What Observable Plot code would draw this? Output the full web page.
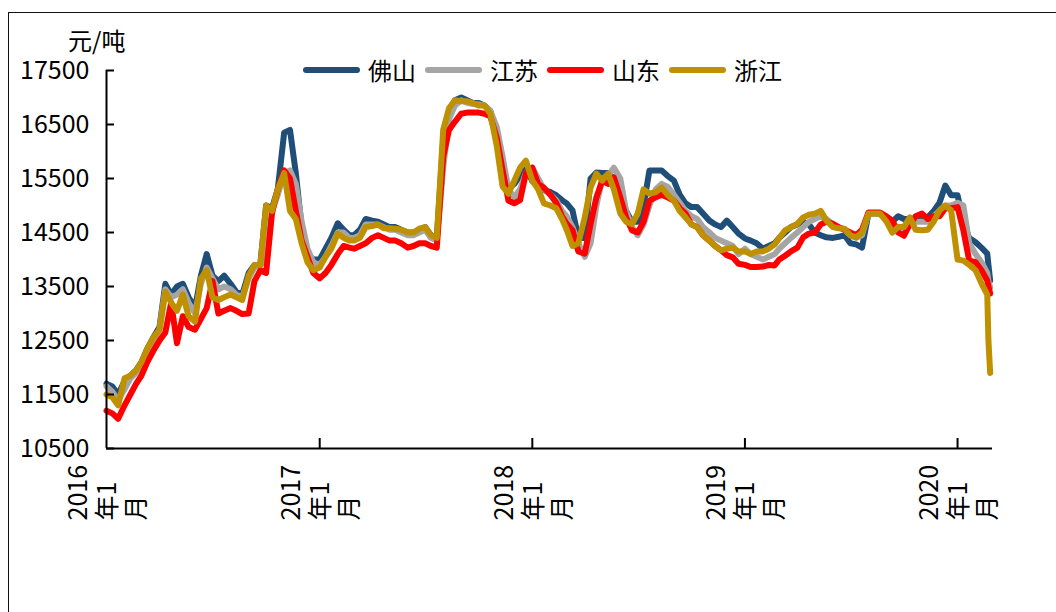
<!DOCTYPE html>
<html><head><meta charset="utf-8">
<script src="https://cdn.jsdelivr.net/npm/d3@7"></script>
<script src="https://cdn.jsdelivr.net/npm/@observablehq/plot@0.6"></script>
<style>
html,body{margin:0;padding:0;background:#fff;overflow:hidden;}
#wrap{position:relative;width:1056px;height:612px;font-family:"Noto Sans CJK SC","Microsoft YaHei",sans-serif;color:#000;}
#border{position:absolute;left:8px;top:12px;width:1200px;height:800px;border:1.5px solid #111;box-sizing:border-box;pointer-events:none;}
#chart{position:absolute;left:0;top:0;}
#unit{position:absolute;left:68px;top:24px;font-size:24px;line-height:32px;}
#legend{position:absolute;left:303px;top:55px;height:30px;display:flex;align-items:center;font-size:24px;}
#legend .sw{display:inline-block;width:57px;height:6px;border-radius:3px;margin-right:8px;}
#legend .lb{margin-right:9px;line-height:30px;}
</style></head>
<body><div id="wrap"><div id="chart"></div><div id="border"></div><div id="unit">元/吨</div><div id="legend"></div></div>
<script>
const seriesNames = ["佛山","江苏","山东","浙江"];
const seriesColors = ["#1F4E79","#A5A5A5","#FF0000","#BF9000"];
const yTicks = [10500,11500,12500,13500,14500,15500,16500,17500];
const xTickDates = ["2017-01-01","2018-01-01","2019-01-01","2020-01-01"];
const xLabelDates = ["2016-01-01","2017-01-01","2018-01-01","2019-01-01","2020-01-01"];
const xLabels = ["2016\n年1\n月","2017\n年1\n月","2018\n年1\n月","2019\n年1\n月","2020\n年1\n月"];

const dates = [
"2016-01-01","2016-01-11","2016-01-21","2016-02-01","2016-02-11","2016-02-21","2016-03-01","2016-03-11","2016-03-21","2016-04-01","2016-04-11","2016-04-21",
"2016-05-01","2016-05-11","2016-05-21","2016-06-01","2016-06-11","2016-06-21","2016-07-01","2016-07-11","2016-07-21","2016-08-01","2016-08-11","2016-08-21",
"2016-09-01","2016-09-11","2016-09-21","2016-10-01","2016-10-11","2016-10-21","2016-11-01","2016-11-11","2016-11-21","2016-12-01","2016-12-11","2016-12-21",
"2017-01-01","2017-01-11","2017-01-21","2017-02-01","2017-02-11","2017-02-21","2017-03-01","2017-03-11","2017-03-21","2017-04-01","2017-04-11","2017-04-21",
"2017-05-01","2017-05-11","2017-05-21","2017-06-01","2017-06-11","2017-06-21","2017-07-01","2017-07-11","2017-07-21","2017-08-01","2017-08-11","2017-08-21",
"2017-09-01","2017-09-11","2017-09-21","2017-10-01","2017-10-11","2017-10-21","2017-11-01","2017-11-11","2017-11-21","2017-12-01","2017-12-11","2017-12-21",
"2018-01-01","2018-01-11","2018-01-21","2018-02-01","2018-02-11","2018-02-21","2018-03-01","2018-03-11","2018-03-21","2018-04-01","2018-04-11","2018-04-21",
"2018-05-01","2018-05-11","2018-05-21","2018-06-01","2018-06-11","2018-06-21","2018-07-01","2018-07-11","2018-07-21","2018-08-01","2018-08-11","2018-08-21",
"2018-09-01","2018-09-11","2018-09-21","2018-10-01","2018-10-11","2018-10-21","2018-11-01","2018-11-11","2018-11-21","2018-12-01","2018-12-11","2018-12-21",
"2019-01-01","2019-01-11","2019-01-21","2019-02-01","2019-02-11","2019-02-21","2019-03-01","2019-03-11","2019-03-21","2019-04-01","2019-04-11","2019-04-21",
"2019-05-01","2019-05-11","2019-05-21","2019-06-01","2019-06-11","2019-06-21","2019-07-01","2019-07-11","2019-07-21","2019-08-01","2019-08-11","2019-08-21",
"2019-09-01","2019-09-11","2019-09-21","2019-10-01","2019-10-11","2019-10-21","2019-11-01","2019-11-11","2019-11-21","2019-12-01","2019-12-11","2019-12-21",
"2020-01-01","2020-01-11","2020-01-21","2020-02-01","2020-02-11","2020-02-21","2020-02-23","2020-02-26"
];

const foshan = [
11700,11650,11500, 11750,11850,11950, 12100,12350,12550, 12750,13550,13350,
13500,13550,13300, 13100,13700,14100, 13700,13600,13700, 13550,13400,13350,
13750,13900,13900, 15000,14950,15300, 16350,16400,15600, 14600,14100,14000,
14000,14200,14400, 14670,14550,14450, 14450,14550,14750, 14720,14700,14650,
14600,14600,14550, 14500,14500,14550, 14600,14450,14400, 16200,16700,16950,
17000,16950,16900, 16900,16850,16750, 16300,15600,15300, 15400,15550,15700,
15450,15400,15280, 15250,15190,15100, 15040,14910,14400, 14400,15500,15610,
15600,15600,15500, 15200,14900,14700, 14700,15000,15650, 15650,15650,15550,
15460,15200,15040, 14970,14970,14850, 14720,14650,14600, 14720,14600,14480,
14390,14350,14300, 14200,14250,14300, 14400,14500,14600, 14650,14700,14650,
14500,14450,14410, 14400,14420,14450, 14300,14280,14220, 14850,14850,14850,
14750,14700,14800, 14750,14750,14750, 14780,14780,14900, 15050,15370,15190,
15190,14700,14400, 14320,14220,14110,13900,13610
];
const jiangsu = [
11650,11550,11400, 11600,11800,11900, 12050,12300,12500, 12700,13450,13300,
13350,13450,13200, 13000,13550,13850, 13650,13450,13500, 13450,13350,13300,
13650,13850,13900, 14000,14900,15200, 15600,15650,15400, 14700,14200,13950,
13900,14050,14250, 14500,14500,14400, 14400,14450,14650, 14650,14650,14600,
14550,14550,14500, 14450,14450,14500, 14550,14400,14350, 15700,16600,16850,
16950,16900,16880, 16870,16850,16750, 16450,15900,15300, 15150,15300,15600,
15700,15500,15300, 15200,15100,14900, 14800,14600,14300, 14050,14300,15000,
15500,15550,15700, 15500,14900,14600, 14450,14650,15000, 15300,15400,15350,
15200,15050,14900, 14800,14750,14600, 14500,14400,14350, 14300,14250,14100,
14200,14100,14050, 14000,14050,14100, 14200,14300,14400, 14500,14600,14700,
14750,14800,14750, 14650,14600,14550, 14450,14400,14450, 14850,14850,14850,
14750,14650,14600, 14550,14700,14700, 14700,14700,14800, 14900,15000,15000,
15050,15000,14300, 14100,13950,13750,13600,13480
];
const shandong = [
11200,11150,11050, 11300,11500,11700, 11850,12100,12300, 12500,12650,13200,
12450,12950,12750, 12700,12900,13100, 13600,13000,13050, 13100,13050,12990,
13000,13600,13800, 13750,14850,15300, 15650,15500,14900, 14350,14050,13750,
13650,13750,13900, 14100,14250,14220, 14200,14250,14300, 14400,14450,14400,
14350,14350,14300, 14220,14250,14300, 14300,14250,14220, 15900,16400,16550,
16700,16720,16720, 16720,16700,16650, 16250,15650,15090, 15040,15100,15600,
15700,15400,15330, 15200,15050,14800, 14660,14540,14150, 14110,14660,15150,
15460,15400,15520, 15150,14780,14540, 14500,14700,15090, 15150,15200,15150,
15090,14950,14850, 14650,14600,14450, 14350,14250,14170, 14080,14040,13920,
13900,13860,13860, 13870,13900,13890, 14000,14070,14150, 14220,14410,14480,
14500,14650,14700, 14660,14600,14550, 14500,14450,14550, 14870,14870,14870,
14800,14720,14500, 14440,14650,14800, 14850,14750,14800, 14800,14950,14950,
14970,14540,13980, 13950,13800,13610,13500,13370
];
const zhejiang = [
11500,11450,11300, 11800,11850,11950, 12100,12350,12550, 12700,13400,13200,
13050,13350,12950, 12850,13650,13800, 13300,13250,13300, 13350,13300,13250,
13700,13900,13900, 15000,14900,15300, 15600,14900,14750, 14300,13950,13800,
13850,14050,14200, 14480,14400,14350, 14350,14400,14600, 14620,14650,14580,
14580,14570,14550, 14500,14500,14570, 14600,14450,14400, 16400,16800,16950,
16930,16930,16900, 16850,16850,16700, 16100,15350,15220, 15460,15700,15830,
15460,15300,15040, 15000,14950,14750, 14550,14250,14300, 14780,15330,15590,
15460,15590,15300, 14850,14700,14650, 14850,15300,15220, 15250,15330,15200,
15090,14900,14780, 14650,14600,14450, 14350,14250,14170, 14200,14220,14150,
14150,14100,14150, 14150,14200,14280, 14400,14540,14600, 14660,14780,14830,
14850,14900,14720, 14600,14580,14570, 14450,14410,14500, 14850,14850,14850,
14700,14500,14600, 14600,14780,14550, 14540,14550,14700, 14910,15000,14910,
14000,13980,13900, 13800,13560,13350,12500,11900
];

const seriesValues = [foshan, jiangsu, shandong, zhejiang];
const parse = d3.utcParse("%Y-%m-%d");
const tables = seriesValues.map((vals, i) => dates.map((d, j) => ({date: parse(d), value: vals[j], name: seriesNames[i]})));

const font = '"Noto Sans CJK SC","Microsoft YaHei",sans-serif';
const chart = Plot.plot({
  width: 1056, height: 612,
  marginLeft: 106, marginRight: 64, marginTop: 70, marginBottom: 164,
  style: {fontFamily: font, fontSize: "25px", color: "#000", background: "transparent", overflow: "visible"},
  x: {type: "utc", domain: [parse("2016-01-01"), parse("2020-03-01")], axis: null},
  y: {domain: [10500, 17500], axis: null},
  marks: [
    ...tables.map((t, i) => Plot.line(t, {x: "date", y: "value", stroke: seriesColors[i], strokeWidth: 6, strokeLinejoin: "round", strokeLinecap: "round"})),
    Plot.ruleX([parse("2016-01-01")], {stroke: "#000", strokeWidth: 2}),
    Plot.ruleY([10500], {stroke: "#000", strokeWidth: 2}),
    Plot.axisY({ticks: yTicks, tickSize: -8, tickPadding: 25, tickFormat: d => String(d), strokeWidth: 2, label: null, fontSize: 25}),
    Plot.axisX({ticks: xTickDates.map(parse), tickSize: -10, tickFormat: () => "", strokeWidth: 2, label: null}),
    Plot.text(xLabelDates.map((d, i) => ({date: parse(d), label: xLabels[i]})), {x: "date", text: "label", frameAnchor: "bottom", dy: 72, rotate: -90, textAnchor: "start", lineAnchor: "middle", lineHeight: 1.16, fontSize: 25, fill: "#000"})
  ]
});
document.getElementById("chart").appendChild(chart);

const legend = document.getElementById("legend");
seriesNames.forEach((n, i) => {
  const sw = document.createElement("span"); sw.className = "sw"; sw.style.background = seriesColors[i];
  const lb = document.createElement("span"); lb.className = "lb"; lb.textContent = n;
  legend.appendChild(sw); legend.appendChild(lb);
});
</script></body></html>
